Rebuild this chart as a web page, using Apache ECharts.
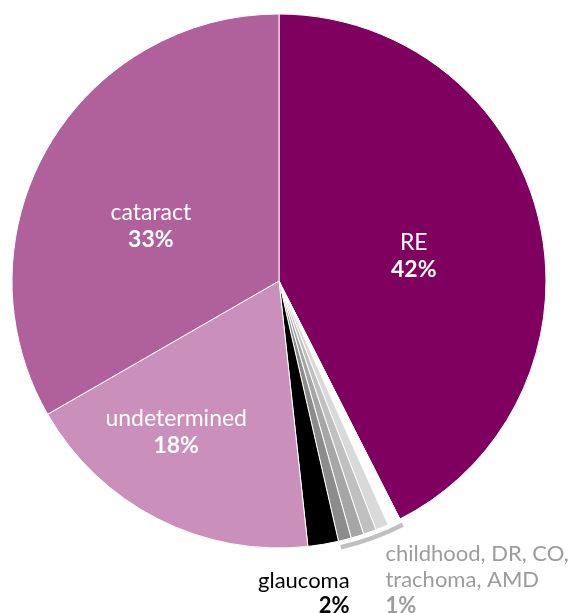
<!DOCTYPE html>
<html>
<head>
<meta charset="utf-8">
<script src="https://cdn.jsdelivr.net/npm/echarts@6/dist/echarts.min.js"></script>
<style>
html,body{margin:0;padding:0;background:#fff;}
#c{width:582px;height:613px;}
</style>
</head>
<body>
<div id="c"></div>
<script>
// slices clockwise from 12 o'clock
const categories = ['RE', 'AMD', 'trachoma', 'CO', 'DR', 'childhood', 'glaucoma', 'undetermined', 'cataract'];
const values = [42.5, 0.78, 0.78, 0.78, 0.78, 0.78, 1.85, 18.4, 33.3];
// percentages printed on the chart
const shownPct = {RE: '42%', cataract: '33%', undetermined: '18%', glaucoma: '2%'};
const smallNames = ['AMD', 'trachoma', 'CO', 'DR', 'childhood'];
const smallLabelLines = ['childhood, DR, CO,', 'trachoma, AMD'];
const smallPct = '1%';

const palette = {
  RE: '#7f005f', AMD: '#ffffff', trachoma: '#d9d9d9', CO: '#c0c0c0', DR: '#a6a6a6',
  childhood: '#8c8c8c', glaucoma: '#000000', undetermined: '#cb8fbb', cataract: '#b0619b'
};
const FONT = 'Lato, "Open Sans", sans-serif';

function insideLabel(name, pct, offset) {
  return {
    show: true, position: 'inside', offset: offset,
    formatter: '{n|' + name + '}\n{p|' + pct + '}',
    rich: {
      n: {color: '#fff', fontSize: 23, fontFamily: FONT, lineHeight: 27},
      p: {color: '#fff', fontSize: 23, fontWeight: 'bold', fontFamily: FONT, lineHeight: 27}
    }
  };
}

const labelCfg = {
  RE: insideLabel('RE', shownPct.RE, [2, 7]),
  cataract: insideLabel('cataract', shownPct.cataract, [-10, 13]),
  undetermined: insideLabel('undetermined', shownPct.undetermined, [-41, 29]),
  glaucoma: {
    show: true, position: 'inside', offset: [3, 178],
    formatter: '{n|glaucoma}\n{p|' + shownPct.glaucoma + '}',
    rich: {
      n: {color: '#000', fontSize: 22, fontFamily: FONT, lineHeight: 25, align: 'right', width: 90},
      p: {color: '#000', fontSize: 22, fontWeight: 'bold', fontFamily: FONT, lineHeight: 25, align: 'right', width: 90}
    }
  },
  CO: {
    show: true, position: 'inside', offset: [155, 171],
    formatter: smallLabelLines.map(s => '{n|' + s + '}').join('\n') + '\n{p|' + smallPct + '}',
    rich: {
      n: {color: '#9c9c9c', fontSize: 22, fontFamily: FONT, lineHeight: 26, align: 'left', width: 190},
      p: {color: '#9c9c9c', fontSize: 22, fontWeight: 'bold', fontFamily: FONT, lineHeight: 26, align: 'left', width: 190}
    }
  }
};

const pieData = categories.map((c, i) => ({
  name: c,
  value: values[i],
  itemStyle: {color: palette[c]},
  label: labelCfg[c] || {show: false}
}));

const total = values.reduce((a, b) => a + b, 0);
const smallSum = smallNames.reduce((a, n) => a + values[categories.indexOf(n)], 0);
const trim = 0.05;
const bracketData = [
  {value: values[0], itemStyle: {color: 'rgba(0,0,0,0)'}},
  {value: smallSum - trim, itemStyle: {color: '#c0c0c0'}},
  {value: total - values[0] - smallSum + trim, itemStyle: {color: 'rgba(0,0,0,0)'}}
];

const chart = echarts.init(document.getElementById('c'), null, {renderer: 'canvas'});
chart.setOption({
  animation: false,
  backgroundColor: '#fff',
  series: [
    {
      type: 'pie',
      center: [279, 281],
      radius: [0, 267],
      startAngle: 90,
      clockwise: true,
      avoidLabelOverlap: false,
      silent: true,
      itemStyle: {borderColor: '#fff', borderWidth: 1},
      labelLine: {show: false},
      labelLayout: {hideOverlap: false},
      data: pieData
    },
    {
      type: 'pie',
      center: [279, 281],
      radius: [271, 275.5],
      startAngle: 90,
      clockwise: true,
      silent: true,
      label: {show: false},
      labelLine: {show: false},
      itemStyle: {borderWidth: 0},
      data: bracketData
    }
  ]
});
</script>
</body>
</html>
